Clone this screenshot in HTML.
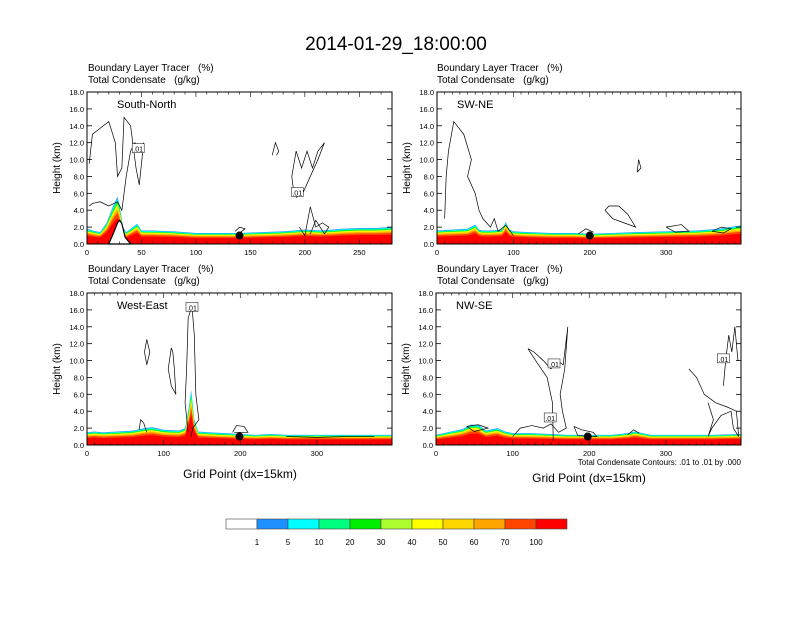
<!DOCTYPE html>
<html><head><meta charset="utf-8"><style>
body{margin:0;background:#fff;font-family:"Liberation Sans",sans-serif}
svg text{font-family:"Liberation Sans",sans-serif;white-space:pre}
</style></head><body>
<svg id="fig" width="792" height="612" viewBox="0 0 792 612">
<text x="396" y="50" font-size="19" text-anchor="middle">2014-01-29_18:00:00</text>
<g id="panels"></g>
<g id="cbar"></g>
<text x="240" y="478" font-size="12" text-anchor="middle">Grid Point (dx=15km)</text>
<text x="589" y="482" font-size="12" text-anchor="middle">Grid Point (dx=15km)</text>
<text x="741" y="465" font-size="8" text-anchor="end">Total Condensate Contours: .01 to .01 by .000</text>
</svg>
<script>
const colors=["#ffffff","#1e90ff","#00ffff","#00ff7f","#00ee00","#adff2f","#ffff00","#ffd700","#ffa500","#ff4500","#ff0000"];
const cbarLabels=["1","5","10","20","30","40","50","60","70","100"];
const yTicks=[0,2,4,6,8,10,12,14,16,18];
const titles=["South-North","SW-NE","West-East","NW-SE"];
const xMax=[280,398,398,398];
const xTickVals=[[0,50,100,150,200,250],[0,100,200,300],[0,100,200,300],[0,100,200,300]];
// boundary layer top: grid points and heights (km)
const blX=[
 [0,5,12,18,24,28,30,33,36,40,46,50,60,80,100,120,140,160,180,200,215,235,250,265,280],
 [0,20,40,50,55,60,70,85,90,95,100,120,150,180,200,230,260,300,340,370,398],
 [0,10,20,40,60,75,85,100,120,128,133,136,140,145,160,180,200,220,240,260,300,340,398],
 [0,20,35,45,55,65,80,90,100,120,150,170,200,230,250,260,280,320,360,398]
];
const blTop=[
 [1.8,1.6,1.4,2.5,4.5,5.6,4.5,2.0,1.4,1.8,2.4,1.6,1.6,1.5,1.3,1.3,1.3,1.4,1.5,1.7,1.6,1.8,1.9,1.9,2.0],
 [1.6,1.7,1.8,2.3,1.7,1.6,1.6,1.7,2.6,1.7,1.5,1.4,1.3,1.3,1.2,1.3,1.4,1.5,1.6,1.8,2.2],
 [1.5,1.6,1.5,1.6,1.7,2.0,2.1,1.8,1.7,2.0,4.5,6.5,3.0,1.6,1.5,1.4,1.3,1.2,1.3,1.2,1.2,1.2,1.2],
 [1.2,1.6,1.9,2.4,2.4,1.7,2.0,1.6,1.4,1.4,1.3,1.2,1.2,1.2,1.4,1.6,1.2,1.2,1.2,1.3]
];
const fracs=[1.0,0.96,0.92,0.88,0.85,0.82,0.78,0.73,0.66,0.55];
// terrain (white, below ground) for South-North
const terrX=[20,25,28,30,32,35,40];
const terrH=[0,1.5,2.5,2.8,2.4,0.8,0];
// contour lines: [gridpoint, km] pairs
const contours=[
 [[[2,9.5],[5,13],[10,13.5],[20,14.5],[26,12],[28,8],[32,9],[34,15],[40,14],[45,9],[48,7],[52,12],[48,11],[44,12],[40,11],[36,8],[32,4],[28,5],[20,4.5],[12,5],[5,4.8],[2,4.5]],
  [[190,6],[188,8],[192,11],[197,9],[202,11],[207,9],[212,11],[218,12],[212,10],[205,8],[198,6],[192,5.5]],
  [[195,2],[200,1],[205,4.4],[210,2],[216,2.5],[222,2],[218,1.2],[210,2.8],[205,1.2]],
  [[170,10.5],[173,12],[176,11],[174,10.5]],[[136,1.5],[140,2],[145,1.8],[141,1.4]]],
 [[[10,3],[12,8],[15,11],[22,14.5],[35,13],[45,10],[40,8],[50,6],[55,4],[60,3],[70,2],[75,3],[80,1.5],[90,2.2],[100,1]],
  [[220,4],[230,3],[245,2.5],[260,2],[250,3.5],[238,4.5],[225,4.5],[220,4]],[[300,2],[320,2.3],[330,1.5],[312,1.4],[300,2]],[[360,1.5],[372,2],[385,1.8],[375,1.3],[360,1.5]],
  [[262,8.5],[264,10],[267,9],[262,8.5]],[[185,1.2],[195,1.8],[205,1.4]]],
 [[[132,1.5],[128,5],[130,9],[132,15],[137,16.5],[140,13],[142,6],[146,3],[138,2],[136,1]],
  [[110,11.5],[106,9],[110,7],[116,6],[114,9],[112,11],[110,11.5]],[[75,11],[78,12.5],[82,11],[78,9.5],[75,11]],
  [[68,1.8],[70,3],[74,2.6],[78,1.5]],[[190,1.5],[195,2.3],[205,2.2],[210,1.5],[192,1.5]],[[260,1],[300,0.9],[340,1],[375,1]]],
 [[[153,0.5],[152,5],[145,8],[130,10],[120,11.4],[128,11],[140,10],[150,9],[158,10],[166,9.5],[172,14],[168,9],[162,6],[165,4],[170,2],[160,1.5],[150,2.5],[140,2],[125,2.3],[110,2],[100,1]],
  [[180,2.2],[190,1.8],[205,1.5],[210,1],[185,1.1],[180,2.2]],[[330,9],[340,8],[350,6],[365,5],[380,4.5],[392,4],[395,1],[388,2],[385,4],[372,3.5],[360,2],[355,1],[362,3],[355,5]],
  [[375,7],[378,10],[382,13],[386,11],[390,14],[394,10]],[[40,2.2],[55,2.4],[68,2],[50,1.6],[40,2.2]],[[250,1.2],[258,1.8],[265,1.4]]]
];
const labelPos=[[[47,11.3],[193,6.1]],[],[[137,16.3]],[[154,9.6],[149,3.2],[375,10.2]]];
const dotX=[140,200,199,198];
const geom=[{x0:87,x1:392,y0:92,y1:244,lx:88,ly:71},{x0:437,x1:741,y0:92,y1:244,lx:437,ly:71},{x0:87,x1:392,y0:293,y1:445,lx:88,ly:272},{x0:436,x1:741,y0:293,y1:445,lx:437,ly:272}];
const NS="http://www.w3.org/2000/svg";
function mk(tag,attrs,parent){const e=document.createElementNS(NS,tag);for(const k in attrs)e.setAttribute(k,attrs[k]);parent.appendChild(e);return e;}
const root=document.getElementById('panels');
geom.forEach((g,p)=>{
 const G=mk('g',{},root);
 
 
 const sx=v=>g.x0+(g.x1-g.x0)*v/xMax[p];
 const sy=v=>g.y1-(g.y1-g.y0)*v/18;
 const t1=mk('text',{x:g.lx,y:g.ly,'font-size':10},G);t1.textContent="Boundary Layer Tracer   (%)";
 
 const t2=mk('text',{x:g.lx,y:g.ly+12,'font-size':10},G);t2.textContent="Total Condensate   (g/kg)";
 
 const xs=blX[p],hs=blTop[p];
 fracs.forEach((f,i)=>{
  let pts=`${sx(0)},${sy(0)} `;
  xs.forEach((x,j)=>{pts+=`${sx(x)},${sy(hs[j]*f)} `;});
  pts+=`${sx(xMax[p])},${sy(0)}`;
  const pl=mk('polygon',{points:pts,fill:colors[i+1]},G);
  
 });
 if(p===0){
  const tp=mk('polygon',{points:terrX.map((x,j)=>sx(x)+','+sy(terrH[j])).join(' '),fill:'#fff',stroke:'#000','stroke-width':1.2},G);
  
 }
 contours[p].forEach(c=>{
  const pl=mk('polyline',{points:c.map(q=>sx(q[0])+','+sy(q[1])).join(' '),fill:'none',stroke:'#000','stroke-width':0.7},G);
  
 });
 labelPos[p].forEach(q=>{
  mk('rect',{x:sx(q[0])-6,y:sy(q[1])-5,width:12,height:9,fill:'#fff',stroke:'#000','stroke-width':0.5},G);
  const t=mk('text',{x:sx(q[0]),y:sy(q[1])+3,'font-size':7,'text-anchor':'middle'},G);t.textContent=".01";
  
 });
 const d=mk('circle',{cx:sx(dotX[p]),cy:sy(1),r:4,fill:'#000'},G);
 
 const fr=mk('rect',{x:g.x0,y:g.y0,width:g.x1-g.x0,height:g.y1-g.y0,fill:'none',stroke:'#000','stroke-width':1},G);
 
 yTicks.forEach(v=>{
  mk('line',{x1:g.x0,x2:g.x0+5,y1:sy(v),y2:sy(v),stroke:'#000','stroke-width':0.8},G);
  mk('line',{x1:g.x1,x2:g.x1-5,y1:sy(v),y2:sy(v),stroke:'#000','stroke-width':0.8},G);
  const t=mk('text',{x:g.x0-3,y:sy(v)+3,'font-size':7.5,'text-anchor':'end'},G);t.textContent=v.toFixed(1);
  
 });
 for(let v=0;v<=xMax[p];v+=10){
  const major=xTickVals[p].includes(v);
  mk('line',{x1:sx(v),x2:sx(v),y1:g.y0,y2:g.y0+(major?5:2.5),stroke:'#000','stroke-width':0.6},G);
  mk('line',{x1:sx(v),x2:sx(v),y1:g.y1,y2:g.y1-(major?5:2.5),stroke:'#000','stroke-width':0.6},G);
 }
 xTickVals[p].forEach(v=>{
  const t=mk('text',{x:sx(v),y:g.y1+11,'font-size':7.5,'text-anchor':'middle'},G);t.textContent=v;
  
 });
 const yt=mk('text',{x:0,y:0,'font-size':10,'text-anchor':'middle',transform:`translate(${g.x0-27},${(g.y0+g.y1)/2}) rotate(-90)`},G);yt.textContent="Height (km)";
 
 const tt=mk('text',{x:g.x0+(p==1||p==3?20:30),y:g.y0+16,'font-size':11},G);tt.textContent=titles[p];
 
});
const cb=document.getElementById('cbar');
colors.forEach((c,i)=>{
 const r=mk('rect',{x:226+i*31,y:519,width:31,height:10,fill:c,stroke:'#444','stroke-width':0.6},cb);
 
});
cbarLabels.forEach((l,i)=>{
 const t=mk('text',{x:226+(i+1)*31,y:545,'font-size':8,'text-anchor':'middle'},cb);t.textContent=l;
 
});
</script>
</body></html>
